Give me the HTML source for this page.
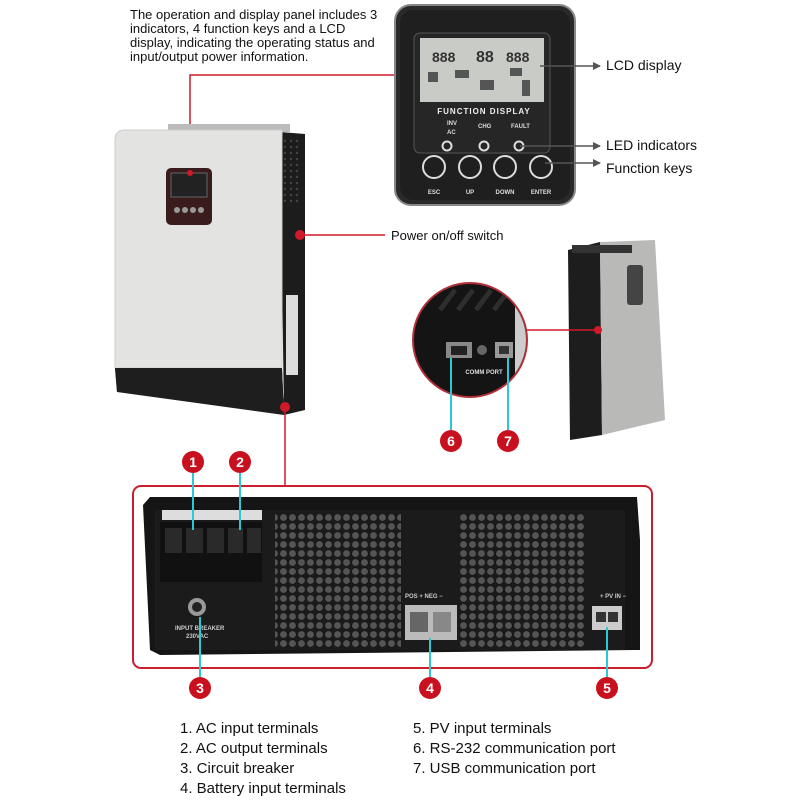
<!DOCTYPE html>
<html><head><meta charset="utf-8"><style>
html,body{margin:0;padding:0;background:#fff}
svg{display:block}
text{font-family:"Liberation Sans",sans-serif}
</style></head><body>
<svg width="800" height="800" viewBox="0 0 800 800" xmlns="http://www.w3.org/2000/svg">
<defs>
<pattern id="holes" width="9" height="9" patternUnits="userSpaceOnUse">
<rect width="9" height="9" fill="#1a1a1a"/>
<circle cx="4.5" cy="4.5" r="3.4" fill="#555"/>
</pattern>
<pattern id="vent" width="6" height="6" patternUnits="userSpaceOnUse">
<rect width="6" height="6" fill="#1c1c1c"/>
<circle cx="3" cy="3" r="1.2" fill="#444"/>
</pattern>
<marker id="ar" markerWidth="8" markerHeight="8" refX="7" refY="4" orient="auto" markerUnits="userSpaceOnUse"><path d="M0,0 L8,4 L0,8 Z" fill="#555"/></marker>
<clipPath id="zc"><circle cx="470" cy="340" r="56"/></clipPath>
</defs>

<!-- top text -->
<g font-size="13" fill="#111">
<text x="130" y="19">The operation and display panel includes 3</text>
<text x="130" y="33">indicators, 4 function keys and a LCD</text>
<text x="130" y="47">display, indicating the operating status and</text>
<text x="130" y="61">input/output power information.</text>
</g>
<polyline points="394,75 190,75 190,176" fill="none" stroke="#d01a2a" stroke-width="1.5"/>

<!-- control panel -->
<rect x="395" y="5" width="180" height="200" rx="16" fill="#2a2a2a" stroke="#888" stroke-width="2"/>
<rect x="400" y="10" width="170" height="190" rx="13" fill="#1f1f1f"/>
<rect x="414" y="33" width="136" height="120" rx="6" fill="#262626" stroke="#555"/>
<rect x="420" y="38" width="124" height="64" fill="#c9cbc6"/>
<g font-family="Liberation Mono" font-weight="bold" fill="#333">
<text x="432" y="62" font-size="14">888</text><text x="476" y="62" font-size="16">88</text><text x="506" y="62" font-size="14">888</text>
</g>
<rect x="428" y="72" width="10" height="10" fill="#555"/><rect x="455" y="70" width="14" height="8" fill="#555"/><rect x="480" y="80" width="14" height="10" fill="#555"/><rect x="510" y="68" width="12" height="8" fill="#555"/><rect x="522" y="80" width="8" height="16" fill="#555"/>
<text x="484" y="114" font-size="8" font-weight="bold" fill="#eee" text-anchor="middle" letter-spacing="1">FUNCTION DISPLAY</text>
<g font-size="6" fill="#ddd" font-weight="bold">
<text x="447" y="125">INV</text><text x="447" y="134">AC</text><text x="478" y="128">CHG</text><text x="511" y="128">FAULT</text>
</g>
<g fill="none" stroke="#ddd" stroke-width="2">
<circle cx="447" cy="146" r="4.5"/><circle cx="484" cy="146" r="4.5"/><circle cx="519" cy="146" r="4.5"/>
<circle cx="434" cy="167" r="11"/><circle cx="470" cy="167" r="11"/><circle cx="505" cy="167" r="11"/><circle cx="541" cy="167" r="11"/>
</g>
<g font-size="6" fill="#ddd" font-weight="bold" text-anchor="middle">
<text x="434" y="194">ESC</text><text x="470" y="194">UP</text><text x="505" y="194">DOWN</text><text x="541" y="194">ENTER</text>
</g>
<g stroke="#555" stroke-width="1.5">
<line x1="540" y1="66" x2="600" y2="66" marker-end="url(#ar)"/>
<line x1="520" y1="146" x2="600" y2="146" marker-end="url(#ar)"/>
<line x1="545" y1="163" x2="600" y2="163" marker-end="url(#ar)"/>
</g>
<g font-size="14" fill="#111">
<text x="606" y="70">LCD display</text>
<text x="606" y="150">LED indicators</text>
<text x="606" y="173">Function keys</text>
</g>

<!-- inverter front -->
<rect x="168" y="124" width="122" height="8" fill="#bbb"/>
<polygon points="280,132 305,134 305,410 284,415" fill="#1c1c1c"/>
<rect x="282" y="136" width="18" height="70" fill="url(#vent)"/>
<rect x="286" y="295" width="12" height="80" fill="#ddd"/>
<path d="M125,130 L282,130 L282,368 L115,368 L115,140 Q115,130 125,130 Z" fill="#e3e3e1" stroke="#ccc"/>
<polygon points="115,368 282,368 284,415 285,398 117,392" fill="#1e1e1e"/>
<polygon points="115,368 282,368 284,415 117,392" fill="#1e1e1e"/>
<rect x="166" y="168" width="46" height="57" rx="5" fill="#3a1c1c"/>
<rect x="171" y="173" width="36" height="24" fill="#222" stroke="#666"/>
<g fill="#999"><circle cx="177" cy="210" r="3"/><circle cx="185" cy="210" r="3"/><circle cx="193" cy="210" r="3"/><circle cx="201" cy="210" r="3"/></g>
<circle cx="190" cy="173" r="3" fill="#d01a2a"/>
<circle cx="300" cy="235" r="5" fill="#d01a2a"/>
<line x1="300" y1="235" x2="385" y2="235" stroke="#d01a2a" stroke-width="1.5"/>
<text x="391" y="240" font-size="13" fill="#111">Power on/off switch</text>
<circle cx="285" cy="407" r="5" fill="#d01a2a"/>
<line x1="285" y1="407" x2="285" y2="486" stroke="#d01a2a" stroke-width="1.5"/>

<!-- side unit -->
<polygon points="568,250 600,242 602,435 570,440" fill="#1d1d1d"/>
<polygon points="600,242 655,240 665,420 602,435" fill="#b9bab8"/>
<rect x="572" y="245" width="60" height="8" fill="#333"/>
<rect x="627" y="265" width="16" height="40" rx="3" fill="#444"/>
<circle cx="598" cy="330" r="4" fill="#d01a2a"/>
<line x1="527" y1="330" x2="598" y2="330" stroke="#d01a2a" stroke-width="1.5"/>

<!-- zoom circle -->
<circle cx="470" cy="340" r="57" fill="#141414" stroke="#b0303a" stroke-width="2"/>
<g clip-path="url(#zc)">
<rect x="515" y="280" width="20" height="120" fill="#ccc"/>
<g stroke="#2e2e2e" stroke-width="5"><line x1="440" y1="310" x2="455" y2="290"/><line x1="458" y1="310" x2="473" y2="290"/><line x1="476" y1="310" x2="491" y2="290"/><line x1="494" y1="310" x2="509" y2="290"/></g>
</g>
<rect x="446" y="342" width="26" height="16" fill="#888"/><rect x="451" y="346" width="16" height="9" fill="#222"/>
<circle cx="482" cy="350" r="5" fill="#666"/>
<rect x="495" y="342" width="18" height="16" fill="#999"/><rect x="499" y="346" width="10" height="8" fill="#333"/>
<text x="484" y="374" font-size="6" fill="#ddd" text-anchor="middle" font-weight="bold">COMM PORT</text>
<g stroke="#2ec8d4" stroke-width="2"><line x1="451" y1="358" x2="451" y2="430"/><line x1="508" y1="358" x2="508" y2="430"/></g>

<!-- big red frame -->
<rect x="133" y="486" width="519" height="182" rx="8" fill="none" stroke="#c81e2e" stroke-width="2"/>
<polygon points="143,505 150,497 637,497 640,540 640,650 160,655 150,650" fill="#151515"/>
<rect x="155" y="510" width="470" height="140" fill="#1b1b1b"/>
<rect x="275" y="512" width="126" height="135" fill="url(#holes)"/>
<rect x="460" y="512" width="124" height="135" fill="url(#holes)"/>
<rect x="405" y="605" width="52" height="35" fill="#bbb"/>
<rect x="410" y="612" width="18" height="20" fill="#666"/><rect x="433" y="612" width="18" height="20" fill="#888"/>
<rect x="592" y="606" width="30" height="24" fill="#ccc"/><rect x="596" y="612" width="10" height="10" fill="#333"/><rect x="608" y="612" width="10" height="10" fill="#333"/>
<rect x="162" y="510" width="100" height="10" fill="#ddd"/>
<rect x="160" y="522" width="102" height="60" fill="#111"/>
<g fill="#2a2a2a"><rect x="165" y="528" width="17" height="25"/><rect x="186" y="528" width="17" height="25"/><rect x="207" y="528" width="17" height="25"/><rect x="228" y="528" width="15" height="25"/><rect x="247" y="528" width="14" height="25"/></g>
<circle cx="197" cy="607" r="9" fill="#999"/><circle cx="197" cy="607" r="5" fill="#222"/>
<g font-size="6" fill="#ccc" font-weight="bold">
<text x="175" y="630">INPUT BREAKER</text><text x="186" y="638">230VAC</text>
<text x="405" y="598">POS +  NEG −</text><text x="600" y="598">+ PV IN −</text>
</g>
<g stroke="#2ec8d4" stroke-width="2">
<line x1="193" y1="473" x2="193" y2="530"/><line x1="240" y1="473" x2="240" y2="530"/>
<line x1="200" y1="617" x2="200" y2="677"/><line x1="430" y1="638" x2="430" y2="677"/><line x1="607" y1="627" x2="607" y2="677"/>
</g>

<!-- number badges -->
<g fill="#c8101e"><circle cx="193" cy="462" r="11"/><circle cx="240" cy="462" r="11"/><circle cx="200" cy="688" r="11"/><circle cx="430" cy="688" r="11"/><circle cx="607" cy="688" r="11"/><circle cx="451" cy="441" r="11"/><circle cx="508" cy="441" r="11"/></g>
<g fill="#fff" font-size="14" font-weight="bold" text-anchor="middle">
<text x="193" y="467">1</text><text x="240" y="467">2</text><text x="200" y="693">3</text><text x="430" y="693">4</text><text x="607" y="693">5</text><text x="451" y="446">6</text><text x="508" y="446">7</text>
</g>

<!-- legend -->
<g font-size="15" fill="#111">
<text x="180" y="733">1. AC input terminals</text>
<text x="180" y="753">2. AC output terminals</text>
<text x="180" y="773">3. Circuit breaker</text>
<text x="180" y="793">4. Battery input terminals</text>
<text x="413" y="733">5. PV input terminals</text>
<text x="413" y="753">6. RS-232 communication port</text>
<text x="413" y="773">7. USB communication port</text>
</g>
</svg>
</body></html>
